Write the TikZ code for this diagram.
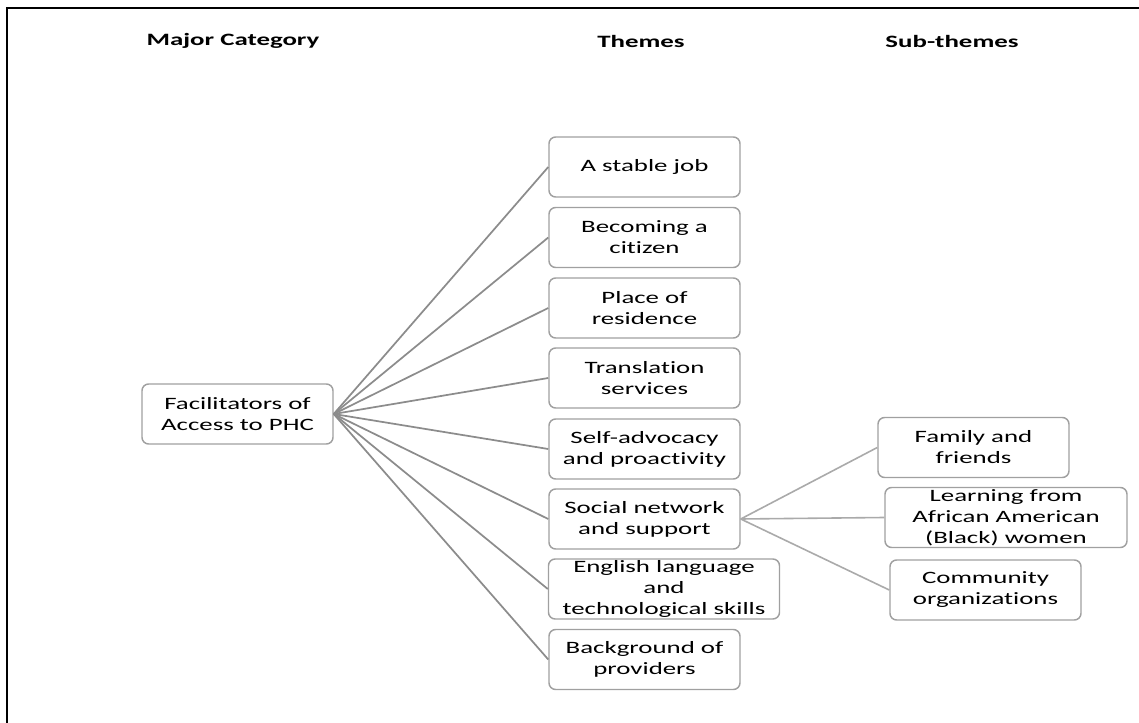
\documentclass[tikz,border=0pt]{standalone}
\usepackage{fontspec}
\setmainfont{Carlito}[FakeStretch=1.55,Ligatures=NoCommon]
\begin{document}
\begin{tikzpicture}[x=0.75pt,y=-0.75pt,
  box/.style={draw=boxgray,line width=1.1pt,rounded corners=5pt,align=center,
    minimum width=143.25pt,minimum height=45pt,inner sep=0pt,
    font=\fontsize{13}{15.75}\selectfont},
  head/.style={font=\fontsize{13}{15.75}\selectfont\bfseries},
  link/.style={draw=linegray,line width=1.3pt},
  sublink/.style={draw=sublinegray,line width=1.2pt}]
\definecolor{boxgray}{RGB}{160,160,160}
\definecolor{linegray}{RGB}{140,140,140}
\definecolor{sublinegray}{RGB}{170,170,170}
\useasboundingbox (0,0) rectangle (1139,723);
\clip (0,0) rectangle (1139,723);
% outer frame
\draw[line width=1.6pt,black] (7,8) rectangle (1160,760);

% column headings
\node[head] (hmajor) at (233,41) {Major Category};
\node[head] (hthemes) at (641,41) {Themes};
\node[head] (hsub) at (952,41) {Sub-themes};

% major category
\node[box,minimum width=143.25pt] (main) at (237.5,414) {Facilitators of\\Access to PHC};

% themes
\node[box] (t1) at (644.5,167) {A stable job};
\node[box] (t2) at (644.5,237.5) {Becoming a\\citizen};
\node[box] (t3) at (644.5,308) {Place of\\residence};
\node[box] (t4) at (644.5,378) {Translation\\services};
\node[box] (t5) at (644.5,449) {Self-advocacy\\and proactivity};
\node[box] (t6) at (644.5,519) {Social network\\and support};
\node[box,minimum width=173.25pt] (t7) at (664,589) {English language\\and\\technological skills};
\node[box] (t8) at (644.5,659.5) {Background of\\providers};

% sub-themes
\node[box] (s1) at (973.5,447.5) {Family and\\friends};
\node[box,minimum width=181.5pt] (s2) at (1006,517.5) {Learning from\\African American\\(Black) women};
\node[box] (s3) at (985.5,590) {Community\\organizations};

% connectors
\foreach \t in {t1,t2,t3,t4,t5,t6,t7,t8}
  \draw[link] (main.east) -- (\t.west);
\foreach \s in {s1,s2,s3}
  \draw[sublink] (t6.east) -- (\s.west);
\end{tikzpicture}
\end{document}
